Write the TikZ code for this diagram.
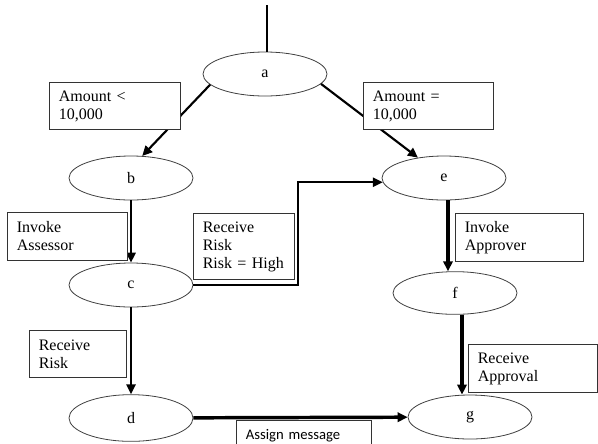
\documentclass[tikz,border=0pt]{standalone}
\usepackage{fontspec}
\setmainfont{Liberation Serif}
\newfontfamily\calibri{Carlito}
\usetikzlibrary{shapes.geometric, arrows.meta}

\begin{document}
\begin{tikzpicture}[x=0.75pt,y=-0.75pt,
  state/.style={draw=black!75,fill=white,shape=ellipse,line width=0.6pt,inner sep=0pt,minimum width=93pt,minimum height=33pt,font=\fontsize{12}{14}\selectfont},
  cond/.style={draw=black!80,fill=white,shape=rectangle,line width=0.7pt,anchor=north west,align=left,inner xsep=7pt,inner ysep=0pt,font=\fontsize{12}{13.5}\selectfont},
  flow/.style={line width=1.6pt,-{Triangle[length=7.5pt,width=7pt]}},
  heavy/.style={flow,line width=2.6pt}]
  \useasboundingbox (0,0) rectangle (598,443);
  \clip (0,0) rectangle (598,443);
  \path (265,74) node[state] (a) {a} (131,178) node[state] (b) {b}
  (131,285) node[state] (c) {c} (131,418) node[state,minimum height=35pt] (d) {d}
  (444,178) node[state] (e) {e} (455,293) node[state,minimum height=32pt] (f) {f}
  (470,417) node[state] (g) {g};
  \coordinate (start) at (267,5);
  \draw[line width=2pt] (start) -- (start |- a.north);
  \draw[flow] (a.191) -- (b.63);
  \draw[flow] (a.350) -- (e.142);
  \draw[flow] (b) -- (c);
  \draw[flow] (c) -- (d);
  \draw[flow,line width=1.4pt] (c.east) -- ++(105,0) |- (e.184);
  \draw[heavy] ([xshift=3pt]e.south) -- ([xshift=3pt]e.south |- f.north);
  \draw[heavy] ([xshift=5.25pt]f.south) -- ([xshift=5.25pt]f.south |- g.north);
  \draw[heavy] (d) -- (g);
  \node[cond,text width=84.25pt,minimum height=35.25pt] (lt) at (49,82) {Amount <\\10,000};
  \node[cond,text width=83.5pt,minimum height=35.25pt] (eq) at (363,82) {Amount =\\10,000};
  \node[cond,text width=76pt,minimum height=36pt] (ias) at (7,212) {Invoke\\Assessor};
  \node[cond,text width=61.75pt,minimum height=49.5pt] (rhigh) at (193,213) {Receive\\Risk\\Risk = High};
  \node[cond,text width=58.75pt,minimum height=35.25pt] (rrisk) at (29,330) {Receive\\Risk};
  \node[cond,text width=82pt,minimum height=36pt] (iap) at (455,213) {Invoke\\Approver};
  \node[cond,text width=82.75pt,minimum height=36pt] (rap) at (468,344) {Receive\\Approval};
  \node[cond,text width=87.25pt,inner ysep=7pt,font=\calibri\fontsize{11}{13}\selectfont] (msg) at (236,420) {Assign message};
\end{tikzpicture}
\end{document}
